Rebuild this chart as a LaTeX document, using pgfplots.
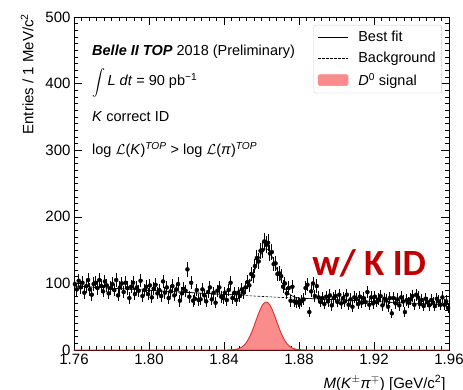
\documentclass[border=0pt]{standalone}
\usepackage{fontspec}
\usepackage{graphicx}
\setmainfont{Liberation Sans}
\newfontfamily\calib{Carlito}
\usepackage{pgfplots}
\usepackage{pgfplotstable}
\pgfplotsset{compat=1.18}
\definecolor{sigfill}{RGB}{250,140,140}
\definecolor{sigline}{RGB}{215,50,50}
\definecolor{kidred}{RGB}{192,0,0}

\pgfplotstableread{
x y e
1.7605 99 10
1.7615 91 10
1.7625 104 10
1.7635 94 10
1.7645 101 10
1.7655 86 9
1.7665 96 10
1.7675 105 10
1.7685 91 10
1.7695 83 9
1.7705 99 10
1.7715 101 10
1.7725 93 10
1.7735 105 10
1.7745 96 10
1.7755 88 9
1.7765 103 10
1.7775 97 10
1.7785 85 9
1.7795 93 10
1.7805 99 10
1.7815 90 9
1.7825 105 10
1.7835 82 9
1.7845 94 10
1.7855 100 10
1.7865 87 9
1.7875 101 10
1.7885 93 10
1.7895 78 9
1.7905 95 10
1.7915 101 10
1.7925 84 9
1.7935 94 10
1.7945 89 9
1.7955 104 10
1.7965 81 9
1.7975 90 9
1.7985 95 10
1.7995 84 9
1.8005 97 10
1.8015 79 9
1.8025 92 10
1.8035 98 10
1.8045 85 9
1.8055 90 9
1.8065 81 9
1.8075 103 10
1.8085 86 9
1.8095 94 10
1.8105 78 9
1.8115 88 9
1.8125 96 10
1.8135 82 9
1.8145 91 10
1.8155 99 10
1.8165 74 9
1.8175 85 9
1.8185 92 10
1.8195 89 9
1.8205 121 11
1.8215 80 9
1.8225 101 10
1.8235 74 9
1.8245 77 9
1.8255 90 9
1.8265 75 9
1.8275 76 9
1.8285 91 10
1.8295 82 9
1.8305 73 9
1.8315 87 9
1.8325 94 10
1.8335 76 9
1.8345 86 9
1.8355 71 8
1.8365 89 9
1.8375 94 10
1.8385 80 9
1.8395 78 9
1.8405 86 9
1.8415 75 9
1.8425 90 9
1.8435 101 10
1.8445 78 9
1.8455 86 9
1.8465 75 9
1.8475 86 9
1.8485 81 9
1.8495 91 10
1.8505 86 9
1.8515 94 10
1.8525 102 10
1.8535 97 10
1.8545 114 11
1.8555 111 11
1.8565 126 11
1.8575 138 12
1.8585 133 12
1.8595 149 12
1.8605 150 12
1.8615 163 13
1.8625 158 13
1.8635 161 13
1.8645 145 12
1.8655 147 12
1.8665 129 11
1.8675 130 11
1.8685 114 11
1.8695 115 11
1.8705 111 11
1.8715 95 10
1.8725 100 10
1.8735 85 9
1.8745 93 10
1.8755 74 9
1.8765 95 10
1.8775 73 9
1.8785 71 8
1.8795 72 8
1.8805 70 8
1.8815 74 9
1.8825 76 9
1.8835 93 10
1.8845 98 10
1.8855 57 8
1.8865 88 9
1.8875 100 10
1.8885 81 9
1.8895 96 10
1.8905 79 9
1.8915 72 8
1.8925 78 9
1.8935 69 8
1.8945 80 9
1.8955 73 9
1.8965 82 9
1.8975 67 8
1.8985 78 9
1.8995 81 9
1.9005 72 8
1.9015 83 9
1.9025 70 8
1.9035 78 9
1.9045 73 9
1.9055 83 9
1.9065 68 8
1.9075 76 9
1.9085 65 8
1.9095 79 9
1.9105 77 9
1.9115 69 8
1.9125 80 9
1.9135 71 8
1.9145 78 9
1.9155 72 8
1.9165 87 9
1.9175 68 8
1.9185 79 9
1.9195 70 8
1.9205 80 9
1.9215 72 8
1.9225 76 9
1.9235 81 9
1.9245 67 8
1.9255 77 9
1.9265 75 9
1.9275 65 8
1.9285 78 9
1.9295 55 7
1.9305 78 9
1.9315 70 8
1.9325 76 9
1.9335 67 8
1.9345 79 9
1.9355 73 9
1.9365 57 8
1.9375 75 9
1.9385 71 8
1.9395 76 9
1.9405 81 9
1.9415 68 8
1.9425 83 9
1.9435 79 9
1.9445 69 8
1.9455 75 9
1.9465 66 8
1.9475 77 9
1.9485 72 8
1.9495 67 8
1.9505 75 9
1.9515 71 8
1.9525 66 8
1.9535 77 9
1.9545 73 9
1.9555 68 8
1.9565 79 9
1.9575 68 8
1.9585 73 9
1.9595 63 8
}\datatable

\begin{document}
\begin{tikzpicture}
\begin{axis}[
  scale only axis,
  width=375pt, height=333pt,
  xmin=1.76, xmax=1.96, ymin=0, ymax=500,
  xtick={1.76,1.80,1.84,1.88,1.92,1.96},
  ytick={0,100,200,300,400,500},
  minor x tick num=9, minor y tick num=9,
  tick align=inside,
  major tick length=8pt, minor tick length=4pt,
  axis line style={black, line width=0.6pt},
  every tick/.style={black, line width=0.5pt},
  /pgf/number format/assume math mode=true,
  xticklabel style={/pgf/number format/.cd, fixed, fixed zerofill, precision=2},
  yticklabel style={/pgf/number format/.cd, fixed},
  tick label style={font=\fontsize{15}{17}\selectfont},
  xlabel={\textit{M}(\textit{K}$^{\pm}$\textit{π}$^{\mp}$) [GeV/c\textsuperscript{2}]},
  ylabel={Entries / 1 MeV/c\textsuperscript{2}},
  label style={font=\fontsize{15}{17}\selectfont},
  xlabel style={at={(axis description cs:1,-0.1)}, anchor=east},
  ylabel style={at={(axis description cs:-0.125,1.02)}, anchor=east},
  clip=false,
  legend style={at={(rel axis cs:0.981,0.976)}, anchor=north east,
    draw=black!20, rounded corners=2pt,
    font=\fontsize{14.5}{17}\selectfont, row sep=5pt,
    inner xsep=4pt, inner ysep=4pt, cells={anchor=west}},
]
\coordinate (SW) at (rel axis cs:0,0);
% signal
\addplot[forget plot, draw=sigline, line width=0.9pt, fill=sigfill] coordinates {
(1.76,0) (1.84,0) (1.8425,0.1) (1.8465,1.0) (1.8485,2.8) (1.8495,4.4) (1.8505,6.7) (1.8515,9.7)
(1.8525,13.8) (1.8535,19.2) (1.8545,25.0) (1.8555,32.0) (1.8565,39.7) (1.8575,47.6)
(1.8585,55.3) (1.8595,62.0) (1.8605,67.4) (1.8615,70.8) (1.8625,72) (1.8635,70.8)
(1.8645,67.4) (1.8655,62.0) (1.8665,55.3) (1.8675,47.6) (1.8685,39.7) (1.8695,32.0)
(1.8705,25.0) (1.8715,19.2) (1.8725,13.8) (1.8735,9.7) (1.8745,6.7) (1.8755,4.4)
(1.8765,2.8) (1.8785,1.0) (1.8825,0.1) (1.885,0) (1.96,0)} \closedcycle;
% background
\addplot[forget plot, black, line width=0.6pt, dash pattern=on 2.5pt off 1.5pt] coordinates {
(1.76,96) (1.78,92.8) (1.80,89.6) (1.82,86.5) (1.84,83.4) (1.87,79) (1.90,75.5) (1.93,71.5) (1.96,68)};
% total fit
\addplot[forget plot, black, line width=0.6pt, smooth] coordinates {
(1.76,96) (1.78,92.8) (1.80,89.6) (1.82,86.5) (1.84,83.4) (1.8425,83.1) (1.8465,83.4)
(1.8485,85.1) (1.8505,88.5) (1.8525,95.3) (1.8545,106.2) (1.8565,120.6) (1.8585,135.9)
(1.8605,147.7) (1.8615,151.0) (1.8625,152.0) (1.8635,150.7) (1.8645,147.1) (1.8665,134.7)
(1.8685,118.8) (1.8705,103.9) (1.8725,92.5) (1.8745,85.2) (1.8765,81.0) (1.8785,79.0)
(1.8825,77.6) (1.90,75.5) (1.93,71.5) (1.96,68)};
% data
\addplot[forget plot, only marks, mark=*, mark size=2pt, black,
  error bars/.cd, y dir=both, y explicit, error mark=none,
  error bar style={line width=0.9pt, black}]
  table[x=x, y=y, y error=e] {\datatable};
% legend
\addlegendimage{legend image code/.code={\draw[black, line width=0.6pt] (0pt,0pt) -- (30pt,0pt); \path (38pt,0pt);}}
\addlegendentry{Best fit}
\addlegendimage{legend image code/.code={\draw[black, line width=0.6pt, dash pattern=on 2.5pt off 1.5pt] (0pt,0pt) -- (30pt,0pt); \path (38pt,0pt);}}
\addlegendentry{Background}
\addlegendimage{legend image code/.code={\fill[sigfill] (0pt,-5.5pt) rectangle (30pt,5.5pt); \path (38pt,0pt);}}
\addlegendentry{\textit{D}\textsuperscript{0} signal}
% annotations
\node[anchor=west, inner sep=0pt, font=\fontsize{14.5}{17}\selectfont] at (rel axis cs:0.048,0.895)
  {\textbf{\textit{Belle II TOP}} 2018 (Preliminary)};
\node[anchor=west, inner sep=0pt, font=\fontsize{14.5}{17}\selectfont] at (rel axis cs:0.048,0.803)
  {\raisebox{-2pt}{\scalebox{1.3}{$\displaystyle\int$}}\,\textit{L dt} = 90 pb\textsuperscript{−1}};
\node[anchor=west, inner sep=0pt, font=\fontsize{14.5}{17}\selectfont] at (rel axis cs:0.048,0.70)
  {\textit{K} correct ID};
\node[anchor=west, inner sep=0pt, font=\fontsize{14.5}{17}\selectfont] at (rel axis cs:0.048,0.60)
  {log $\mathcal{L}$(\textit{K})\textsuperscript{\textit{TOP}} > log $\mathcal{L}$(\textit{π})\textsuperscript{\textit{TOP}}};
\node[font=\calib\bfseries\fontsize{37}{40}\selectfont, text=kidred] at (rel axis cs:0.787,0.261) {w/ K ID};
\end{axis}
\pgfresetboundingbox
\path ([shift={(-74pt,-40pt)}]SW) rectangle ([shift={(389pt,350pt)}]SW);
\end{tikzpicture}
\end{document}
